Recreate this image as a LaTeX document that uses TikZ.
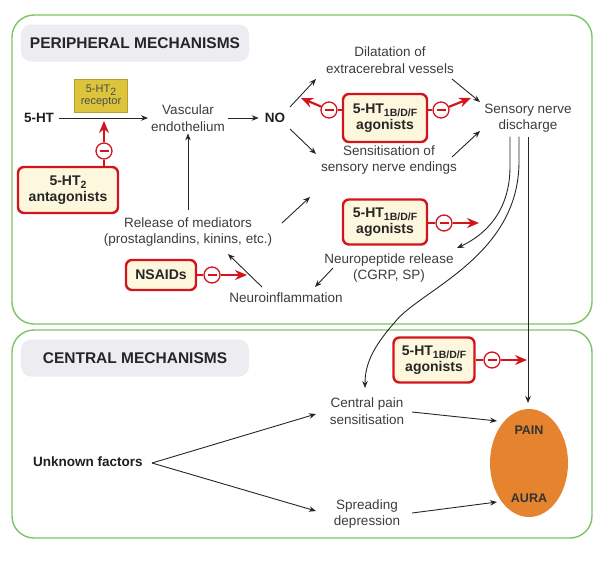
\documentclass[tikz,border=0pt]{standalone}
\usepackage{fontspec}
\setmainfont{Liberation Sans}
\usetikzlibrary{arrows.meta,shapes.geometric,calc}
\definecolor{mygreen}{HTML}{7CC363}
\definecolor{myred}{HTML}{D3141C}
\definecolor{myyellow}{HTML}{FDF7DD}
\definecolor{hdrgray}{HTML}{ECECF1}
\definecolor{txtgray}{HTML}{3C3C3C}
\definecolor{gold}{HTML}{DCC53C}
\definecolor{golddark}{HTML}{B8A028}
\definecolor{myorange}{HTML}{E6832F}
\newcommand{\mysub}[1]{\raisebox{-0.45ex}{\fontsize{10.5}{10}\selectfont #1}}
\begin{document}
\begin{tikzpicture}[x=1pt,y=-1pt,
  panel/.style={draw=mygreen,line width=1.4pt,rounded corners=22pt},
  header/.style={fill=hdrgray,rounded corners=10pt,font=\bfseries\fontsize{15.5}{18}\selectfont,text=black!85,minimum width=228pt,minimum height=37pt,inner sep=0pt},
  txt/.style={font=\fontsize{13.5}{16.5}\selectfont,text=txtgray,align=center,inner sep=0pt},
  btxt/.style={font=\bfseries\fontsize{13.5}{16.5}\selectfont,text=black!88,align=center,inner sep=0pt},
  agbox/.style={draw=myred,line width=2.4pt,fill=myyellow,rounded corners=6pt,font=\bfseries\fontsize{14}{16}\selectfont,text=black!85,align=center,inner sep=0pt},
  inh/.style={circle,draw=myred,fill=white,line width=1.3pt,minimum size=16pt,inner sep=0pt,
    path picture={\draw[myred,line width=1.6pt] ([xshift=-4.5pt]path picture bounding box.center) -- ([xshift=4.5pt]path picture bounding box.center);}},
  redline/.style={draw=myred,line width=2.2pt},
  redarr/.style={draw=myred,line width=2.2pt,-{Stealth[length=12pt,width=10pt]}},
  arr/.style={draw=black!85,line width=0.9pt,-{Stealth[length=7pt,width=5.5pt]}},
  ]
\useasboundingbox (0,0) rectangle (610,560);

% panels
\draw[panel] (12,15) rectangle (592,324);
\draw[panel] (12,330) rectangle (592,538);
\node[header] (hp) at (135,43) {PERIPHERAL MECHANISMS};
\node[header] (hc) at (135,358) {CENTRAL MECHANISMS};

% peripheral nodes
\node[btxt] (ht) at (39,118) {5-HT};
\node[fill=gold,draw=golddark,line width=0.6pt,minimum width=53pt,minimum height=33pt,inner sep=0pt,align=center,
      font=\fontsize{11}{12.5}\selectfont,text=black!70] (rec) at (101,96) {5-HT\mysub{2}\\receptor};
\node[txt] (ve) at (188,118) {Vascular\\endothelium};
\node[btxt] (no) at (275,118) {NO};
\node[txt] (dil) at (390,60) {Dilatation of\\extracerebral vessels};
\node[txt] (sen) at (389,160) {Sensitisation of\\sensory nerve endings};
\node[agbox,minimum width=84pt,minimum height=48pt] (ag1) at (385,118) {5-HT\mysub{1B/D/F}\\agonists};
\node[txt] (snd) at (528,118) {Sensory nerve\\discharge};
\node[agbox,minimum width=100pt,minimum height=46pt] (ant) at (68,190) {5-HT\mysub{2}\\antagonists};
\node[txt] (rel) at (188,232) {Release of mediators\\(prostaglandins, kinins, etc.)};
\node[agbox,minimum width=70pt,minimum height=30pt] (nsa) at (161,275) {NSAIDs};
\node[txt] (ni) at (286,298) {Neuroinflammation};
\node[agbox,minimum width=84pt,minimum height=45pt] (ag2) at (385,222) {5-HT\mysub{1B/D/F}\\agonists};
\node[txt] (npr) at (389,268) {Neuropeptide release\\(CGRP, SP)};

% central nodes
\node[agbox,minimum width=81pt,minimum height=45pt] (ag3) at (434,360) {5-HT\mysub{1B/D/F}\\agonists};
\node[txt] (cps) at (367,411) {Central pain\\sensitisation};
\node[txt] (sd) at (367,514) {Spreading\\depression};
\node[ellipse,fill=myorange,minimum width=78pt,minimum height=108pt,inner sep=0pt] (ell) at (529,463) {};
\node[btxt,font=\bfseries\fontsize{12.5}{14}\selectfont,text=black!80] (pain) at (529,430) {PAIN};
\node[btxt,font=\bfseries\fontsize{12.5}{14}\selectfont,text=black!80] (aura) at (529,498) {AURA};
\node[btxt] (uf) at (88,462) {Unknown factors};

% connector end coordinates
\coordinate (noA) at (290,107);  \coordinate (dilA) at (316,79);
\coordinate (noB) at (290,129);  \coordinate (senA) at (316,154);
\coordinate (dilB) at (452,79);  \coordinate (sndA) at (480,102);
\coordinate (senB) at (452,157); \coordinate (sndB) at (480,131);
\coordinate (niA) at (262,287);  \coordinate (relA) at (228,254);
\coordinate (relB) at (282,223); \coordinate (senC) at (310,197);
\coordinate (nprA) at (333,268); \coordinate (niB) at (315,287);
\coordinate (nprB) at (457,248);
\coordinate (cpsA) at (365,388);
\coordinate (ellA) at (528,403);
\coordinate (ufA) at (152,463);
\coordinate (cpsB) at (316,414); \coordinate (sdA) at (316,511);
\coordinate (cpsC) at (412,412); \coordinate (ellB) at (497,421);
\coordinate (sdB) at (412,513);  \coordinate (ellC) at (497,502);

% black arrows
\draw[arr,shorten <=5pt,shorten >=3pt] (ht.east) -- (ve.west);
\draw[arr,shorten <=3pt,shorten >=6pt] (ve.east) -- (no.west);
\draw[arr] (noA) -- (dilA);
\draw[arr] (noB) -- (senA);
\draw[arr] (dilB) -- (sndA);
\draw[arr] (senB) -- (sndB);
\draw[arr,shorten <=7pt,shorten >=2pt] (rel.north) -- (ve.south);
\draw[arr] (niA) -- (relA);
\draw[arr] (relB) -- (senC);
\draw[arr] (nprA) -- (niB);
\draw[arr] ([xshift=-18pt,yshift=-4pt]snd.south) -- ++(0,30) .. controls +(0,45) and (485,235) .. (nprB);
\draw[arr] ([xshift=-9pt,yshift=-4pt]snd.south) -- ++(0,25) .. controls +(0,95) and (420,290) .. (395,322) .. controls (372,348) and (365,365) .. (cpsA);
\draw[arr] ([yshift=-4pt]snd.south) -- (ellA);
\draw[arr] (ufA) -- (cpsB);
\draw[arr] (ufA) -- (sdA);
\draw[arr] (cpsC) -- (ellB);
\draw[arr] (sdB) -- (ellC);

% red inhibitory arrows
\node[inh] (c1) at (104,151) {};
\coordinate (t1) at (104,121);
\draw[redline] (c1 |- ant.north) -- (c1);
\draw[redarr] (c1) -- (t1);

\node[inh] (c2) at (329,110) {};
\coordinate (t2) at (301,98);
\draw[redline] (ag1.west |- c2) -- (c2);
\draw[redarr] (c2) -- (t2);

\node[inh] (c3) at (441,110) {};
\coordinate (t3) at (471,98);
\draw[redline] (ag1.east |- c3) -- (c3);
\draw[redarr] (c3) -- (t3);

\node[inh] (c4) at (212,275) {};
\coordinate (t4) at (247,275);
\draw[redline] (nsa.east) -- (c4);
\draw[redarr] (c4) -- (t4);

\node[inh] (c5) at (444,223) {};
\coordinate (t5) at (479,223);
\draw[redline] (ag2.east |- c5) -- (c5);
\draw[redarr] (c5) -- (t5);

\node[inh] (c6) at (492,360) {};
\coordinate (t6) at (527,360);
\draw[redline] (ag3.east) -- (c6);
\draw[redarr] (c6) -- (t6);
\end{tikzpicture}
\end{document}
